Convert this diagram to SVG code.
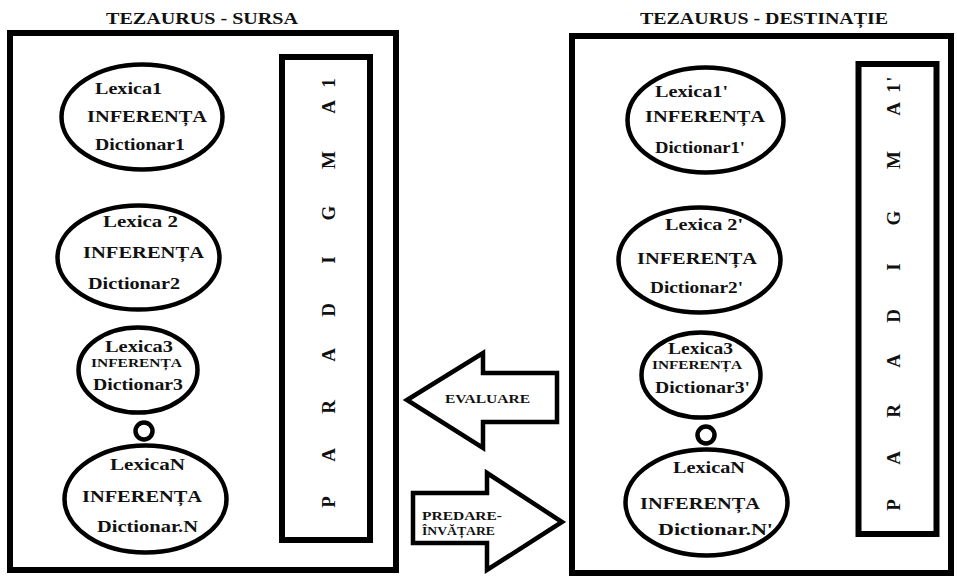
<svg xmlns="http://www.w3.org/2000/svg" width="957" height="576" viewBox="0 0 957 576">
  <style>
    .frame { fill: #fff; stroke: #000; stroke-width: 6; }
    .bar { fill: #fff; stroke: #000; stroke-width: 6; }
    .oval { fill: #fff; stroke: #000; stroke-width: 4.5; }
    .dot { fill: #fff; stroke: #000; stroke-width: 4.5; }
    .arrow { fill: #fff; stroke: #000; stroke-width: 4.5; stroke-linejoin: miter; }
    text { font-family: "Liberation Serif", "Times New Roman", serif; font-weight: bold; fill: #111; }
    .title { font-size: 16.5px; }
    .lbl { font-size: 17.5px; }
    .mid { font-size: 16px; }
    .small { font-size: 12.5px; }
    .arr { font-size: 13px; }
    .vert { font-size: 19px; text-anchor: middle; }
  </style>
  <rect width="957" height="576" fill="#fff"/>

  <!-- source thesaurus -->
  <g id="tezaurus-sursa">
    <text class="title" x="106" y="24" textLength="192" lengthAdjust="spacingAndGlyphs">TEZAURUS - SURSA</text>
    <rect class="frame" x="10" y="33" width="386" height="537"/>
  </g>
  <g id="paradigma-sursa">
    <rect class="bar" x="282" y="57" width="88" height="483"/>
    <text class="vert" transform="translate(335,0) rotate(-90)" x="-502 -455 -407 -355 -310 -260 -213 -160 -107 -83" y="0">PARADIGMA1</text>
  </g>
  <g id="lexica-1">
    <ellipse class="oval" cx="142" cy="117" rx="80.5" ry="52.5"/>
    <text class="lbl" x="95" y="94" textLength="67" lengthAdjust="spacingAndGlyphs">Lexica1</text>
    <text class="lbl" x="87" y="122" textLength="120" lengthAdjust="spacingAndGlyphs">INFERENȚA</text>
    <text class="lbl" x="95" y="150" textLength="90" lengthAdjust="spacingAndGlyphs">Dictionar1</text>
  </g>
  <g id="lexica-2">
    <ellipse class="oval" cx="138.5" cy="257.5" rx="81" ry="52"/>
    <text class="lbl" x="103" y="227" textLength="75" lengthAdjust="spacingAndGlyphs">Lexica 2</text>
    <text class="lbl" x="83" y="258" textLength="121" lengthAdjust="spacingAndGlyphs">INFERENȚA</text>
    <text class="lbl" x="88" y="289" textLength="92" lengthAdjust="spacingAndGlyphs">Dictionar2</text>
  </g>
  <g id="lexica-3">
    <ellipse class="oval" cx="138" cy="370" rx="59.5" ry="42.5"/>
    <text class="mid" x="105" y="352" textLength="68" lengthAdjust="spacingAndGlyphs">Lexica3</text>
    <text class="small" x="91" y="367" textLength="91" lengthAdjust="spacingAndGlyphs">INFERENȚA</text>
    <text class="lbl" x="93" y="390" textLength="90" lengthAdjust="spacingAndGlyphs">Dictionar3</text>
  </g>
  <g id="lexica-n">
    <ellipse class="oval" cx="145.5" cy="499" rx="81" ry="53.5"/>
    <text class="lbl" x="110" y="470" textLength="75" lengthAdjust="spacingAndGlyphs">LexicaN</text>
    <text class="lbl" x="82" y="502" textLength="120" lengthAdjust="spacingAndGlyphs">INFERENȚA</text>
    <text class="lbl" x="97" y="532" textLength="101" lengthAdjust="spacingAndGlyphs">Dictionar.N</text>
  </g>

  <!-- destination thesaurus -->
  <g id="tezaurus-destinatie">
    <text class="title" x="640" y="24" textLength="248" lengthAdjust="spacingAndGlyphs">TEZAURUS - DESTINAȚIE</text>
    <rect class="frame" x="572" y="36" width="379" height="537"/>
  </g>
  <g id="paradigma-destinatie">
    <rect class="bar" x="858.5" y="64" width="78" height="470"/>
    <text class="vert" transform="translate(900,0) rotate(-90)" x="-505 -458 -411 -361 -316 -267 -218 -160 -109 -88 -79" y="0">PARADIGMA1'</text>
  </g>
  <g id="lexica-1p">
    <ellipse class="oval" cx="705.5" cy="120" rx="78" ry="52.5"/>
    <text class="lbl" x="655" y="97" textLength="73" lengthAdjust="spacingAndGlyphs">Lexica1'</text>
    <text class="lbl" x="645" y="122" textLength="120" lengthAdjust="spacingAndGlyphs">INFERENȚA</text>
    <text class="lbl" x="655" y="153" textLength="90" lengthAdjust="spacingAndGlyphs">Dictionar1'</text>
  </g>
  <g id="lexica-2p">
    <ellipse class="oval" cx="699.5" cy="260" rx="81" ry="52.5"/>
    <text class="lbl" x="665" y="230" textLength="78" lengthAdjust="spacingAndGlyphs">Lexica 2'</text>
    <text class="lbl" x="637" y="264" textLength="120" lengthAdjust="spacingAndGlyphs">INFERENȚA</text>
    <text class="lbl" x="650" y="293" textLength="93" lengthAdjust="spacingAndGlyphs">Dictionar2'</text>
  </g>
  <g id="lexica-3p">
    <ellipse class="oval" cx="701" cy="375" rx="59.5" ry="42.5"/>
    <text class="mid" x="668" y="354" textLength="65" lengthAdjust="spacingAndGlyphs">Lexica3</text>
    <text class="small" x="652" y="369" textLength="90" lengthAdjust="spacingAndGlyphs">INFERENȚA</text>
    <text class="lbl" x="655" y="393" textLength="95" lengthAdjust="spacingAndGlyphs">Dictionar3'</text>
  </g>
  <g id="lexica-np">
    <ellipse class="oval" cx="706.5" cy="502.5" rx="81" ry="53"/>
    <text class="lbl" x="673" y="473" textLength="72" lengthAdjust="spacingAndGlyphs">LexicaN</text>
    <text class="lbl" x="640" y="509" textLength="120" lengthAdjust="spacingAndGlyphs">INFERENȚA</text>
    <text class="lbl" x="658" y="535" textLength="115" lengthAdjust="spacingAndGlyphs">Dictionar.N'</text>
  </g>

  <!-- links: ellipsis rings and the two block arrows -->
  <g id="connectors">
    <circle class="dot" cx="144" cy="431" r="8.5"/>
    <circle class="dot" cx="706" cy="435" r="8.5"/>
    <g id="evaluare">
      <polygon class="arrow" points="407,400 483,353 483,373 557,373 557,422 483,422 483,448"/>
      <text class="arr" x="445" y="403" textLength="85" lengthAdjust="spacingAndGlyphs">EVALUARE</text>
    </g>
    <g id="predare-invatare">
      <polygon class="arrow" points="413,493 487,493 487,473 562,522 487,570 487,543 413,543"/>
      <text class="arr" x="422" y="520" textLength="80" lengthAdjust="spacingAndGlyphs">PREDARE-</text>
      <text class="arr" x="422" y="535" textLength="73" lengthAdjust="spacingAndGlyphs">ÎNVĂȚARE</text>
    </g>
  </g>
</svg>
